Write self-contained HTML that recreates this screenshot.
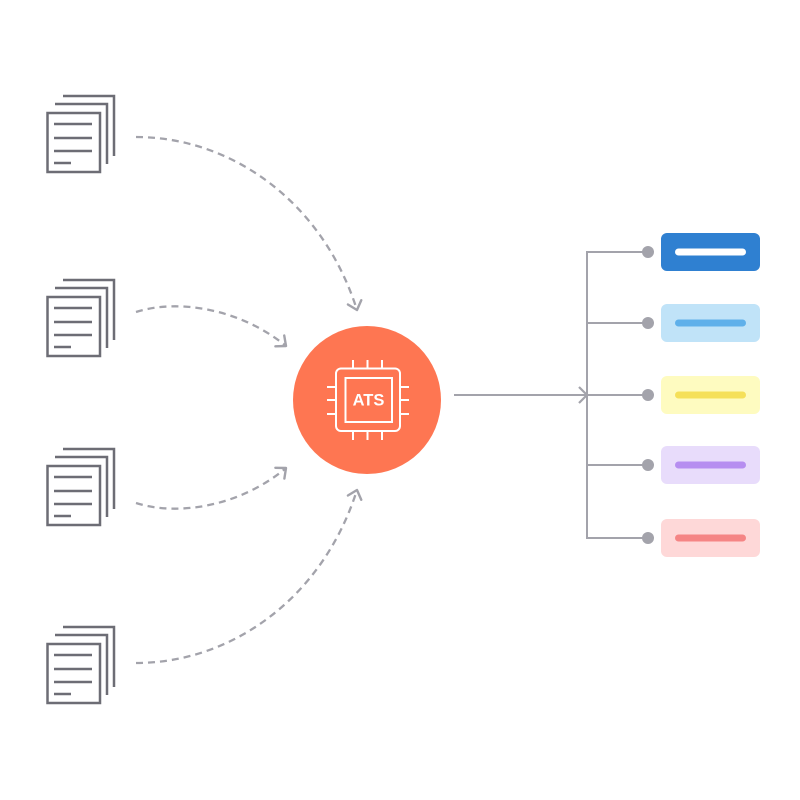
<!DOCTYPE html>
<html><head><meta charset="utf-8"><style>
html,body{margin:0;padding:0;background:#fff;width:800px;height:800px;overflow:hidden}
svg{display:block}
</style></head><body>
<svg width="800" height="800" viewBox="0 0 800 800" xmlns="http://www.w3.org/2000/svg">
<defs>
<marker id="ah" markerWidth="16" markerHeight="18" refX="11" refY="9" orient="auto" markerUnits="userSpaceOnUse">
<path d="M3,2 L11,9 L3,16" fill="none" stroke="#a3a3ab" stroke-width="2.4" stroke-linecap="round" stroke-linejoin="round"/>
</marker>
<g id="doc" fill="none" stroke="#6d6d75" stroke-width="2.5">
<polyline points="63,0 114,0 114,60"/>
<polyline points="55,8 107,8 107,68"/>
<rect x="47.5" y="17" width="52.5" height="59" fill="#fff"/>
<line x1="54" y1="28" x2="92" y2="28"/>
<line x1="54" y1="42" x2="92" y2="42"/>
<line x1="54" y1="55" x2="92" y2="55"/>
<line x1="54" y1="67" x2="71" y2="67"/>
</g>
</defs>

<use href="#doc" transform="translate(0,96)"/>
<use href="#doc" transform="translate(0,280)"/>
<use href="#doc" transform="translate(0,449)"/>
<use href="#doc" transform="translate(0,627)"/>

<g fill="none" stroke="#a3a3ab" stroke-width="2.3" stroke-dasharray="7,5">
<path d="M136,137 C230,137 322,200 357,310" marker-end="url(#ah)"/>
<path d="M136,312 C180,298 242,310 286,346" marker-end="url(#ah)"/>
<path d="M136,503 C180,517 242,505 286,468" marker-end="url(#ah)"/>
<path d="M136,663 C230,663 322,600 357,490" marker-end="url(#ah)"/>
</g>

<circle cx="367" cy="400" r="74" fill="#fe7652"/>
<g fill="none" stroke="#fff" stroke-width="2">
<rect x="336" y="368.5" width="64" height="62.5" rx="5"/>
<rect x="345.5" y="378" width="46.5" height="44"/>
<line x1="353" y1="360" x2="353" y2="368"/>
<line x1="367.5" y1="360" x2="367.5" y2="368"/>
<line x1="382" y1="360" x2="382" y2="368"/>
<line x1="353" y1="431" x2="353" y2="440"/>
<line x1="367.5" y1="431" x2="367.5" y2="440"/>
<line x1="382" y1="431" x2="382" y2="440"/>
<line x1="327" y1="387" x2="336" y2="387"/>
<line x1="327" y1="400" x2="336" y2="400"/>
<line x1="327" y1="414" x2="336" y2="414"/>
<line x1="400" y1="387" x2="409" y2="387"/>
<line x1="400" y1="400" x2="409" y2="400"/>
<line x1="400" y1="414" x2="409" y2="414"/>
</g>
<text x="368.5" y="405.5" text-anchor="middle" fill="#fff" font-family="'Liberation Sans', Arial, sans-serif" font-weight="bold" font-size="16.5">ATS</text>

<g stroke="#a3a3ab" stroke-width="2" fill="none">
<line x1="454" y1="395" x2="587" y2="395"/>
<polyline points="579,387 587,395 579,403" stroke-linejoin="round" stroke-width="2.2"/>
<polyline points="648,252 587,252 587,538 648,538"/>
<line x1="587" y1="323" x2="648" y2="323"/>
<line x1="587" y1="395" x2="648" y2="395"/>
<line x1="587" y1="465" x2="648" y2="465"/>
</g>
<g fill="#a3a3ab">
<circle cx="648" cy="252" r="6"/>
<circle cx="648" cy="323" r="6"/>
<circle cx="648" cy="395" r="6"/>
<circle cx="648" cy="465" r="6"/>
<circle cx="648" cy="538" r="6"/>
</g>

<rect x="661" y="233" width="99" height="38" rx="6" fill="#2f80d1"/>
<rect x="675" y="248.5" width="71" height="7" rx="3.5" fill="#fff"/>
<rect x="661" y="304" width="99" height="38" rx="6" fill="#c0e3f8"/>
<rect x="675" y="319.5" width="71" height="7" rx="3.5" fill="#5fb0ea"/>
<rect x="661" y="376" width="99" height="38" rx="6" fill="#fefbc0"/>
<rect x="675" y="391.5" width="71" height="7" rx="3.5" fill="#f5e05a"/>
<rect x="661" y="446" width="99" height="38" rx="6" fill="#e8dcfb"/>
<rect x="675" y="461.5" width="71" height="7" rx="3.5" fill="#b68ef0"/>
<rect x="661" y="519" width="99" height="38" rx="6" fill="#fed8d8"/>
<rect x="675" y="534.5" width="71" height="7" rx="3.5" fill="#f58585"/>
</svg>
</body></html>
